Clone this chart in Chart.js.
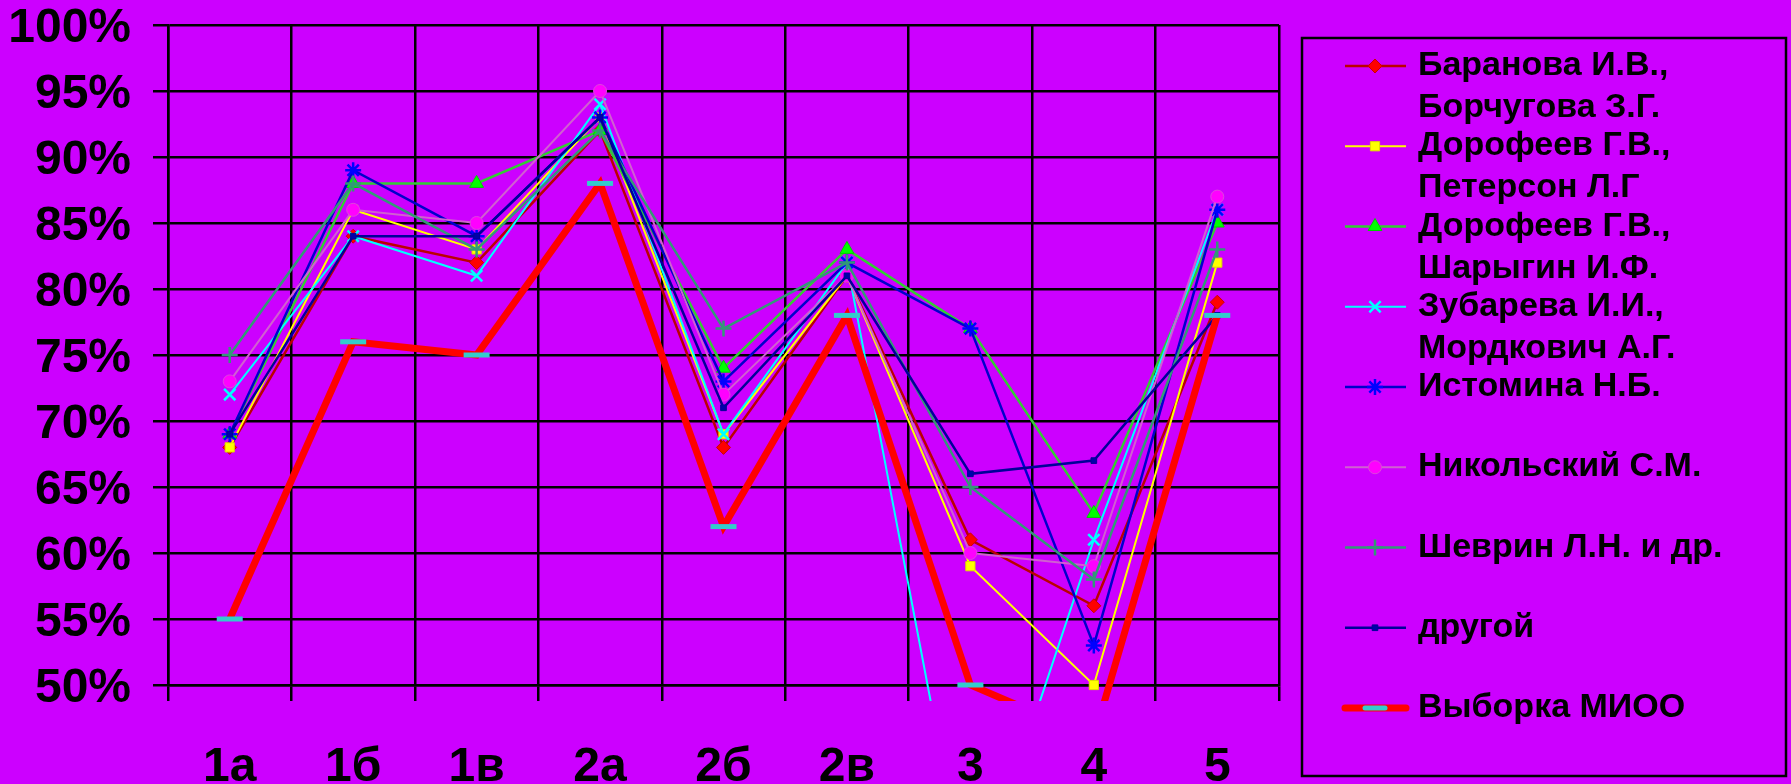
<!DOCTYPE html>
<html>
<head>
<meta charset="utf-8">
<script src="https://cdn.jsdelivr.net/npm/chart.js@4.4.1/dist/chart.umd.min.js"></script>
<style>
  html, body { margin: 0; padding: 0; background: #cc00ff; }
  #wrap { width: 1791px; height: 784px; position: relative; }
</style>
</head>
<body>
<div id="wrap"><canvas id="chart" width="1791" height="784"></canvas></div>
<script>
const categories = ["1а", "1б", "1в", "2а", "2б", "2в", "3", "4", "5"];
const yTicks = [50, 55, 60, 65, 70, 75, 80, 85, 90, 95, 100];

const baranova = [68, 84, 82, 92, 68, 81, 61, 56, 79];
const dorofeevPeterson = [68, 86, 83, 93, 69, 81, 59, 50, 82];
const dorofeevSharygin = [69, 88, 88, 92, 74, 83, 77, 63, 85];
const zubareva = [72, 84, 81, 94, 69, 82, 33, 61, 86];
const istomina = [69, 89, 84, 93, 73, 82, 77, 53, 86];
const nikolsky = [73, 86, 85, 95, 72, 81, 60, 59, 87];
const shevrin = [75, 88, 83, 92, 77, 82, 65, 58, 83];
const drugoy = [69, 84, 84, 93, 71, 81, 66, 67, 78];
const mioo = [55, 76, 75, 88, 62, 78, 50, 46, 78];

const legendLabels = [
  ["Баранова И.В.,", "Борчугова З.Г."],
  ["Дорофеев Г.В.,", "Петерсон Л.Г"],
  ["Дорофеев Г.В.,", "Шарыгин И.Ф."],
  ["Зубарева И.И.,", "Мордкович А.Г."],
  ["Истомина Н.Б."],
  ["Никольский С.М."],
  ["Шеврин Л.Н. и др."],
  ["другой"],
  ["Выборка МИОО"],
];

const FONT = "'Liberation Sans', Arial, sans-serif";

function series(i, data, line, width, style, radius, fill, stroke, pbw) {
  return {
    label: legendLabels[i].join(" "),
    data: data,
    borderColor: line,
    borderWidth: width,
    pointStyle: style,
    pointRadius: radius,
    pointHoverRadius: radius,
    pointBackgroundColor: fill,
    pointBorderColor: stroke,
    pointBorderWidth: pbw,
    tension: 0,
    fill: false,
    clip: { left: 10, top: 10, right: 10, bottom: 16 },
    order: legendLabels.length - i,
  };
}

const datasets = [
  series(0, baranova, "#bb0000", 2.5, "rectRot", 7, "#ff0000", "#cc0000", 1),
  series(1, dorofeevPeterson, "#ffff00", 2, "rect", 6.5, "#ffff00", "#dddd00", 1),
  series(2, dorofeevSharygin, "#33cc33", 2.5, "triangle", 8, "#00ff00", "#00cc00", 1),
  series(3, zubareva, "#00ffff", 2, "crossRot", 8, "#00ffff", "#00ffff", 2.5),
  series(4, istomina, "#0000cc", 2.5, "star", 8, "#0000ff", "#0000ff", 2.5),
  series(5, nikolsky, "#d060d0", 2, "circle", 6.5, "#ff00ff", "#dd44dd", 1),
  series(6, shevrin, "#339977", 2.5, "cross", 8, "#339977", "#339977", 2.5),
  series(7, drugoy, "#000099", 2.5, "rect", 4, "#0000aa", "#000099", 1),
  series(8, mioo, "#ff0000", 7, "line", 13, "#33cccc", "#33cccc", 5),
];

// legend drawn on the canvas in the same style as the old office chart
const sideLegend = {
  id: "sideLegend",
  afterDraw(chart) {
    const ctx = chart.ctx;
    ctx.save();
    ctx.strokeStyle = "#000";
    ctx.lineWidth = 2.5;
    ctx.strokeRect(1302, 38, 484, 738);

    ctx.font = "bold 34px " + FONT;
    ctx.fillStyle = "#000";
    ctx.textBaseline = "alphabetic";
    ctx.textAlign = "left";

    chart.data.datasets.forEach((ds, i) => {
      const y = 66 + i * 80.25;
      ctx.save();
      ctx.strokeStyle = ds.borderColor;
      ctx.lineWidth = ds.borderWidth;
      ctx.lineCap = i === 8 ? "round" : "butt";
      ctx.beginPath();
      ctx.moveTo(1345, y);
      ctx.lineTo(1406, y);
      ctx.stroke();
      ctx.fillStyle = ds.pointBackgroundColor;
      ctx.strokeStyle = ds.pointBorderColor;
      ctx.lineWidth = ds.pointBorderWidth;
      Chart.helpers.drawPoint(ctx, {
        pointStyle: ds.pointStyle,
        radius: i === 8 ? 10 : Math.max(ds.pointRadius, 3),
        rotation: 0,
        borderWidth: ds.pointBorderWidth,
      }, 1375, y);
      ctx.restore();

      legendLabels[i].forEach((t, k) => {
        ctx.fillText(t, 1418, y + 9 + k * 42);
      });
    });
    ctx.restore();
  },
};

new Chart(document.getElementById("chart"), {
  type: "line",
  data: { labels: categories, datasets: datasets },
  options: {
    responsive: false,
    devicePixelRatio: 1,
    animation: false,
    events: [],
    layout: { padding: { top: 25, right: 512, bottom: 0, left: 0 } },
    plugins: { legend: { display: false }, tooltip: { enabled: false } },
    scales: {
      x: {
        offset: true,
        grid: { color: "#000", lineWidth: 2.5, offset: true, tickLength: 16 },
        border: { color: "#000", width: 2.5 },
        ticks: {
          color: "#000",
          font: { family: FONT, size: 48, weight: "bold" },
          padding: 38,
          maxRotation: 0,
        },
        afterFit(scale) {
          scale.height = 99;
          scale.paddingLeft = 0;
          scale.paddingRight = 0;
        },
      },
      y: {
        min: 50,
        max: 100,
        grid: { color: "#000", lineWidth: 2.5, tickLength: 15 },
        border: { color: "#000", width: 2.5 },
        ticks: {
          color: "#000",
          font: { family: FONT, size: 48, weight: "bold", lineHeight: 1 },
          padding: 22,
          labelOffset: 4,
          callback: (v) => v + "%",
        },
        afterBuildTicks(scale) {
          scale.ticks = yTicks.map((v) => ({ value: v }));
        },
        afterFit(scale) {
          scale.width = 168;
          scale.paddingTop = 0;
          scale.paddingBottom = 0;
        },
      },
    },
  },
  plugins: [sideLegend],
});
</script>
</body>
</html>
